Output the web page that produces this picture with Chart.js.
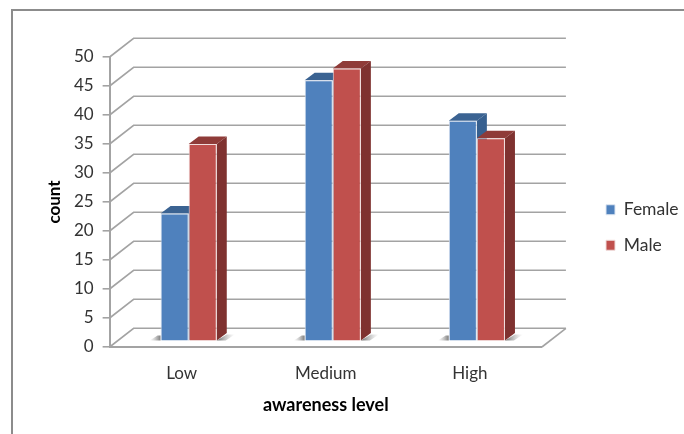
<!DOCTYPE html>
<html>
<head>
<meta charset="utf-8">
<title>Awareness level by gender</title>
<script src="https://cdn.jsdelivr.net/npm/chart.js@4"></script>
<style>
    html, body { margin: 0; padding: 0; background: #fff; }
    #wrap { width: 684px; height: 434px; }
</style>
</head>
<body>
<div id="wrap"><canvas id="awarenessChart" width="684" height="434"></canvas></div>
<script>
    const categories = ['Low', 'Medium', 'High'];
    const femaleCounts = [22, 45, 38];
    const maleCounts = [34, 47, 35];
    const yMax = 50;
    const yStep = 5;

    const blue = '#4f81bd';
    const red = '#c0504d';
    const gridColor = '#a3a3a3';

    // Fake 3D: how far the back wall and the bars sit from the front plane
    const wallDx = 24, wallDy = -18.7;
    const barDx = 7, barDy = -5.8;
    const depthDx = 10, depthDy = -7.5;

    function poly(ctx, pts, fill) {
        ctx.beginPath();
        pts.forEach((p, i) => i ? ctx.lineTo(p[0], p[1]) : ctx.moveTo(p[0], p[1]));
        ctx.closePath();
        ctx.fillStyle = fill;
        ctx.fill();
    }

    function drawDepth(ctx, bars, side, top) {
        bars.forEach(bar => {
            const l = bar.x - bar.width / 2, r = bar.x + bar.width / 2;
            poly(ctx, [[l, bar.y], [l + depthDx, bar.y + depthDy], [r + depthDx, bar.y + depthDy], [r, bar.y]], top);
            poly(ctx, [[r, bar.y], [r + depthDx, bar.y + depthDy], [r + depthDx, bar.base + depthDy], [r, bar.base]], side);
        });
    }

    const chart3d = {
        id: 'chart3d',
        afterLayout(chart) {
            // Legend sits away from the plot in the original
            const lg = chart.legend;
            const dx = 606 - (lg.left + lg.options.labels.padding);
            lg.left += dx;
            lg.right += dx;
            lg.top -= 9;
            lg.bottom -= 9;
        },
        beforeDraw(chart) {
            const { ctx, chartArea: a, scales: { y } } = chart;
            ctx.save();
            // outer frame, only top and left survive the crop
            ctx.strokeStyle = '#8c8c8c';
            ctx.lineWidth = 2;
            ctx.beginPath();
            ctx.moveTo(12, 434);
            ctx.lineTo(12, 10);
            ctx.lineTo(684, 10);
            ctx.stroke();

            // floor right edge, wall diagonals and back grid lines
            ctx.strokeStyle = gridColor;
            ctx.lineWidth = 1.6;
            y.ticks.forEach(t => {
                const py = y.getPixelForValue(t.value);
                ctx.beginPath();
                ctx.moveTo(a.left, py);
                ctx.lineTo(a.left + wallDx, py + wallDy);
                ctx.lineTo(a.right + wallDx, py + wallDy);
                ctx.stroke();
            });
            ctx.beginPath();
            ctx.moveTo(a.right, a.bottom);
            ctx.lineTo(a.right + wallDx, a.bottom + wallDy);
            ctx.stroke();
            ctx.restore();
        },
        beforeDatasetsDraw(chart) {
            const { ctx } = chart;
            ctx.save();
            ctx.translate(barDx, barDy);
            const f = chart.getDatasetMeta(0).data;
            const m = chart.getDatasetMeta(1).data;
            // soft shadow on the floor under each pair of bars
            f.forEach((bar, i) => {
                const left = bar.x - bar.width / 2;
                const right = m[i].x + m[i].width / 2;
                const base = bar.base;
                let g = ctx.createLinearGradient(left - 11, 0, left, 0);
                g.addColorStop(0, 'rgba(170,170,170,0)');
                g.addColorStop(1, 'rgba(110,110,110,0.9)');
                poly(ctx, [[left - 11, base], [left - 3, base - 5], [left, base - 5], [left, base]], g);
                g = ctx.createLinearGradient(right, 0, right + 18, 0);
                g.addColorStop(0, 'rgba(90,90,90,0.9)');
                g.addColorStop(1, 'rgba(170,170,170,0)');
                poly(ctx, [[right, base], [right + 10, base - 6], [right + 18, base - 6], [right + 9, base]], g);
            });
            // female faces first, the male front has to cover them
            drawDepth(ctx, f, '#37608f', '#3b6392');
            drawDepth(ctx, m, '#7f3230', '#8f3b38');
        },
        afterDatasetsDraw(chart) {
            chart.ctx.restore();
        }
    };

    new Chart(document.getElementById('awarenessChart').getContext('2d'), {
        type: 'bar',
        plugins: [chart3d],
        data: {
            labels: categories,
            datasets: [
                { label: 'Female', data: femaleCounts, backgroundColor: blue, borderColor: '#dfe7f2', borderWidth: 1 },
                { label: 'Male', data: maleCounts, backgroundColor: red, borderColor: '#f0dcdb', borderWidth: 1 }
            ]
        },
        options: {
            responsive: false,
            animation: false,
            layout: { padding: { top: 57, left: 44.5, right: 41.5, bottom: 18 } },
            datasets: { bar: { barPercentage: 1, categoryPercentage: 0.39 } },
            plugins: {
                tooltip: { enabled: false },
                legend: {
                    position: 'right',
                    labels: {
                        boxWidth: 9,
                        boxHeight: 10,
                        padding: 18,
                        color: '#333',
                        font: { family: 'Lato', size: 17.5 }
                    }
                }
            },
            scales: {
                x: {
                    grid: { display: false },
                    border: { display: true, color: gridColor, width: 2 },
                    ticks: { color: '#333', padding: 8, font: { family: 'Lato', size: 17 } },
                    title: { display: true, text: 'awareness level', color: '#000', padding: { top: 3, bottom: 0 }, font: { family: 'Lato', size: 18, weight: 'bold' } }
                },
                y: {
                    min: 0,
                    max: yMax,
                    ticks: { stepSize: yStep, color: '#333', padding: 9, font: { family: 'Lato', size: 17 } },
                    grid: { drawOnChartArea: false, drawTicks: true, tickLength: 7, color: gridColor, lineWidth: 1.6 },
                    border: { display: true, color: gridColor, width: 2 },
                    title: { display: true, text: 'count', color: '#000', padding: { top: 0, bottom: 0 }, font: { family: 'Lato', size: 17, weight: 'bold' } }
                }
            }
        }
    });
</script>
</body>
</html>
